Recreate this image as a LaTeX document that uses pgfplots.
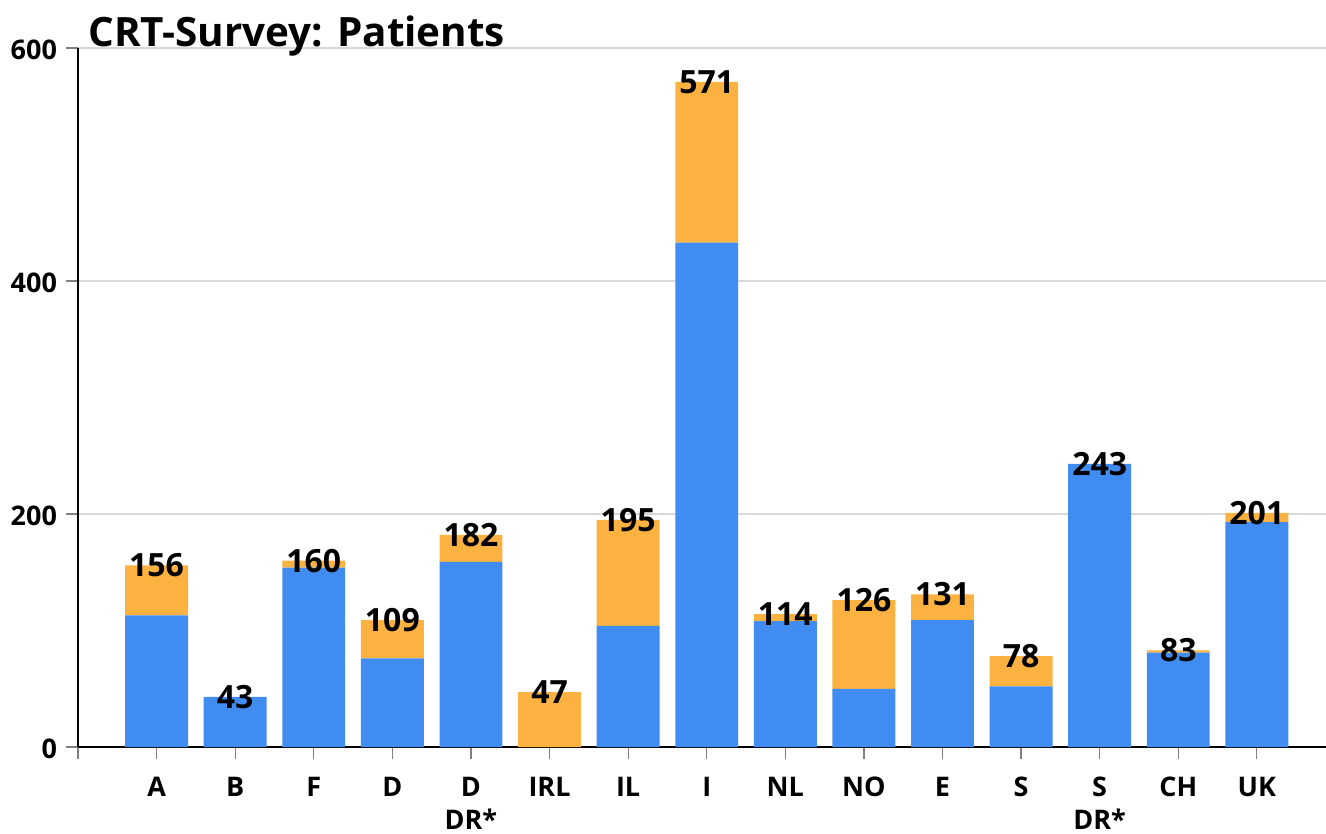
\documentclass[border=0pt]{standalone}
\usepackage{fontspec}
\setmainfont{Open Sans}
\usepackage{pgfplots}
\usepackage{pgfplotstable}
\pgfplotsset{compat=1.18}
\definecolor{cblue}{RGB}{65,140,240}
\definecolor{corange}{RGB}{251,178,64}
\definecolor{cgrid}{RGB}{217,217,217}
\pgfplotstableread{
x b o t
0 113 43 156
1 43 0 43
2 154 6 160
3 76 33 109
4 159 23 182
5 0 47 47
6 104 91 195
7 433 138 571
8 108 6 114
9 50 76 126
10 109 22 131
11 52 26 78
12 243 0 243
13 81 2 83
14 193 8 201
}\data
\pgfplotsset{common/.style={
  at={(0,0)}, anchor=south west,
  scale only axis, width=624pt, height=349.5pt,
  xmin=-1, xmax=14.88, ymin=0, ymax=600, clip=false}}
\begin{document}
\begin{tikzpicture}
\useasboundingbox (-39pt,-43.5pt) rectangle (624pt,373.5pt);
\begin{axis}[
  common,
  ybar stacked, bar width=0.8,
  axis lines=left, axis line style={-, line width=1.2pt, black},
  xtick={-1,0,...,14},
  xticklabels={,A,B,F,D,{D\\DR*},IRL,IL,I,NL,NO,E,S,{S\\DR*},CH,UK},
  xticklabel style={align=center, font=\bfseries\fontsize{13.5}{16.5}\selectfont, yshift=-5.5pt},
  ytick={0,200,400,600},
  yticklabel style={font=\bfseries\fontsize{13.5}{15}\selectfont, xshift=-1pt, yshift=-1pt},
  /pgf/number format/assume math mode=true,
  tick align=outside, major tick length=6pt,
  tick style={draw=gray, line width=0.6pt},
  ymajorgrids, grid style={cgrid, line width=1pt},
]
\addplot[fill=cblue, draw=none] table[x=x, y=b] {\data};
\addplot[fill=corange, draw=none] table[x=x, y=o] {\data};
\node[anchor=base west, font=\bfseries\fontsize{20.2}{23}\selectfont, inner sep=0pt] at (rel axis cs:0,1) [xshift=5pt, yshift=1pt] {CRT-Survey: Patients};
\end{axis}
\begin{axis}[common, hide axis]
\addplot[draw=none, mark=none, nodes near coords, point meta=explicit symbolic,
  nodes near coords style={font=\bfseries\fontsize{16}{18}\selectfont, black, anchor=center, inner sep=0pt}]
  table[x=x, y=t, meta=t] {\data};
\end{axis}
\end{tikzpicture}
\end{document}
